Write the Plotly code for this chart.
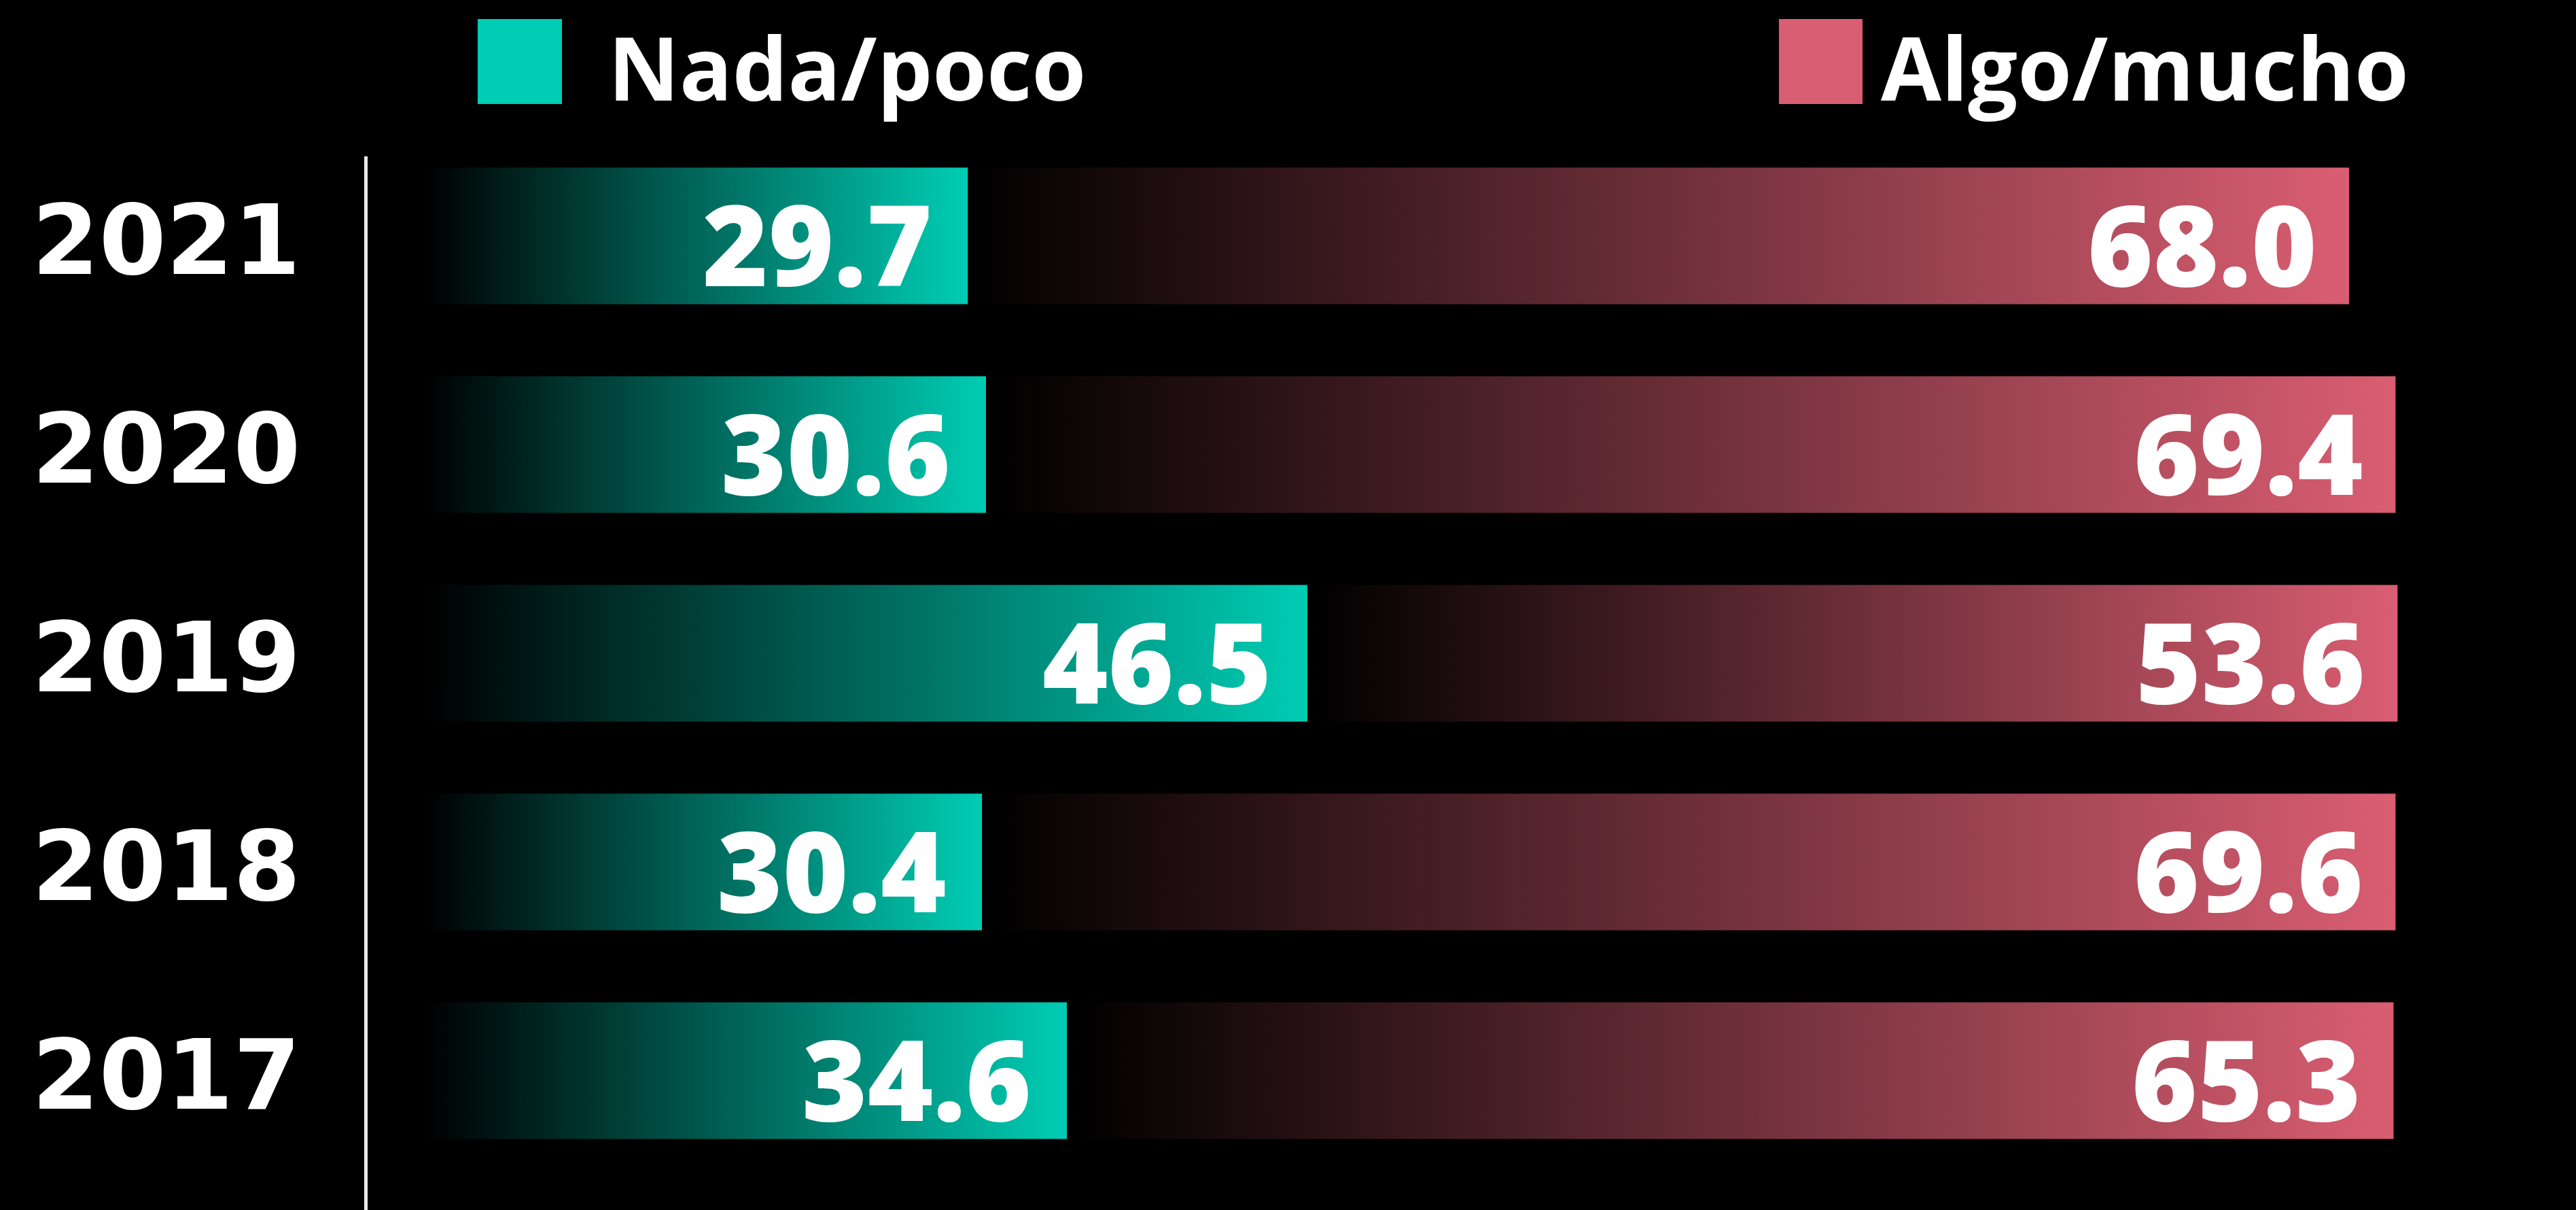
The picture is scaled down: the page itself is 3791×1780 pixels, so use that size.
import plotly.graph_objects as go

# ---- data ----
years = ["2021", "2020", "2019", "2018", "2017"]
nada = [29.7, 30.6, 46.5, 30.4, 34.6]
algo = [68.0, 69.4, 53.6, 69.6, 65.3]
series_names = ["Nada/poco", "Algo/mucho"]

# ---- style ----
TEAL = "#00CDB4"
PINK = "#DA5E72"
W, H = 3791, 1780
ML, MT = 541, 230
PW, PH = W - ML, H - MT
PX_PER_UNIT = 29.74
GAP = 0.35
HALF = 0.327
ROW_PX = 307.0
LEAD = 2.9  # where the teal gradient leaves pure black

n = len(years)
pos = [n - 1 - i for i in range(n)]  # 2021 on top

fig = go.Figure()
annotations = []
for yr, p, a_val, b_val in zip(years, pos, nada, algo):
    # Nada/poco segment
    fig.add_trace(go.Scatter(
        x=[0, a_val, a_val, 0, 0],
        y=[p - HALF, p - HALF, p + HALF, p + HALF, p - HALF],
        mode="lines", line=dict(width=0), fill="toself",
        fillgradient=dict(type="horizontal", start=LEAD, stop=a_val,
                          colorscale=[[0, "#000000"], [1, TEAL]]),
        hoverinfo="skip", showlegend=False, name=series_names[0]))
    # Algo/mucho segment
    base = a_val + GAP
    end = base + b_val
    fig.add_trace(go.Scatter(
        x=[base, end, end, base, base],
        y=[p - HALF, p - HALF, p + HALF, p + HALF, p - HALF],
        mode="lines", line=dict(width=0), fill="toself",
        fillgradient=dict(type="horizontal", colorscale=[[0, "#000000"], [1, PINK]]),
        hoverinfo="skip", showlegend=False, name=series_names[1]))
    vfont = dict(family="Open Sans", size=165, color="white", weight=800)
    annotations.append(dict(x=a_val, y=p, xref="x", yref="y", text=f"{a_val:.1f}",
                            showarrow=False, xanchor="right", yanchor="middle",
                            xshift=-50, yshift=-10, font=vfont))
    annotations.append(dict(x=end, y=p, xref="x", yref="y", text=f"{b_val:.1f}",
                            showarrow=False, xanchor="right", yanchor="middle",
                            xshift=-45, yshift=-10, font=vfont))
    # year labels, centred left of the axis
    annotations.append(dict(x=(244 - ML) / PW, y=p, xref="paper", yref="y", text=yr,
                            showarrow=False, xanchor="center", yanchor="middle", yshift=-6,
                            font=dict(family="DejaVu Sans", size=142, color="white", weight="bold")))

# legend (text + colour squares)
lfont = dict(family="Open Sans", size=129, color="white", weight=700)
annotations.append(dict(x=(893 - ML) / PW, y=(H - 98) / PH, xref="paper", yref="paper",
                        text=series_names[0], showarrow=False, xanchor="left", yanchor="middle", font=lfont))
annotations.append(dict(x=(2766 - ML) / PW, y=(H - 98) / PH, xref="paper", yref="paper",
                        text=series_names[1], showarrow=False, xanchor="left", yanchor="middle", font=lfont))
shapes = [
    dict(type="rect", xref="paper", yref="paper", x0=(703 - ML) / PW, x1=(827 - ML) / PW,
         y0=(H - 153) / PH, y1=(H - 28) / PH, fillcolor=TEAL, line=dict(width=0)),
    dict(type="rect", xref="paper", yref="paper", x0=(2618 - ML) / PW, x1=(2741 - ML) / PW,
         y0=(H - 153) / PH, y1=(H - 28) / PH, fillcolor=PINK, line=dict(width=0)),
]

top_val = (n - 1) + (347 - MT) / ROW_PX
span = PH / ROW_PX
fig.update_layout(
    width=W, height=H, autosize=False,
    margin=dict(l=ML, r=0, t=MT, b=0, pad=0),
    paper_bgcolor="black", plot_bgcolor="black",
    xaxis=dict(range=[0, PW / PX_PER_UNIT], visible=False, fixedrange=True),
    yaxis=dict(range=[top_val - span, top_val], showgrid=False, zeroline=False,
               showticklabels=False, ticks="", showline=True, linecolor="#e8e8e8",
               linewidth=5, fixedrange=True),
    annotations=annotations, shapes=shapes, showlegend=False,
)

fig.write_html("out.html", config={"displayModeBar": False},
               post_script="document.body.style.margin='0';document.body.style.overflow='hidden';")
